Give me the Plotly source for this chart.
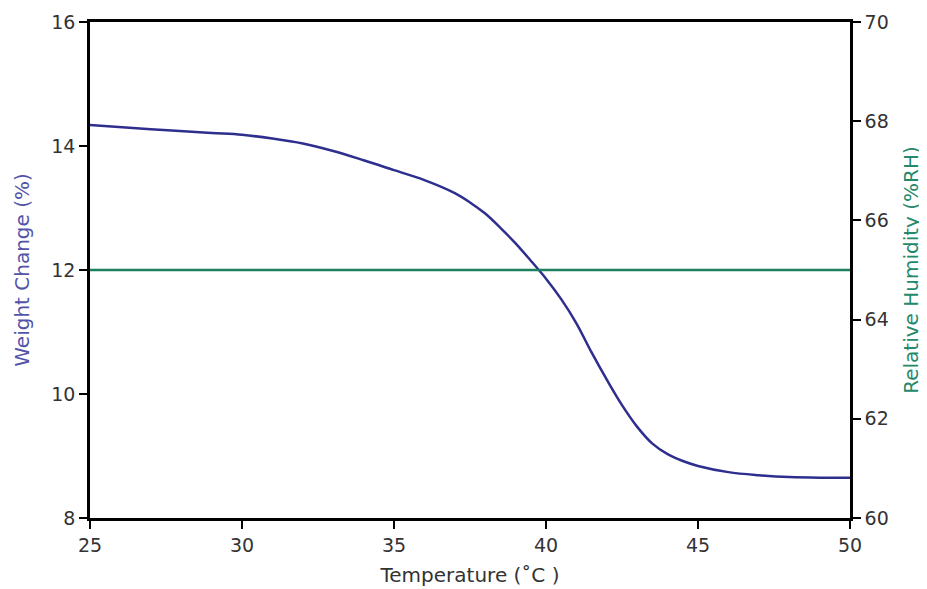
import plotly.graph_objects as go

temperature = [25, 27, 29, 30, 31, 32, 33, 34, 35, 36, 37, 37.5, 38, 38.5, 39, 39.5, 40,
               40.5, 41, 41.5, 42, 42.5, 43, 43.5, 44, 44.5, 45, 46, 47, 48, 49, 50]
weight_change = [14.34, 14.27, 14.21, 14.18, 14.12, 14.04, 13.92, 13.77, 13.61, 13.45,
                 13.24, 13.09, 12.91, 12.68, 12.43, 12.15, 11.86, 11.53, 11.14, 10.67,
                 10.23, 9.82, 9.47, 9.20, 9.03, 8.92, 8.84, 8.74, 8.69, 8.66, 8.65, 8.65]
rh_temperature = [25, 50]
relative_humidity = [65, 65]

blue = "#2E2E8F"
green = "#1B7F60"
font_family = "'DejaVu Sans', sans-serif"

fig = go.Figure()
fig.add_trace(go.Scatter(x=temperature, y=weight_change, mode="lines",
                         line=dict(color=blue, width=2.5, shape="spline", smoothing=1.0),
                         showlegend=False))
fig.add_trace(go.Scatter(x=rh_temperature, y=relative_humidity, mode="lines",
                         line=dict(color=green, width=2.5), yaxis="y2",
                         showlegend=False))

axis_common = dict(showline=True, linecolor="black", linewidth=2.5, ticks="outside",
                   ticklen=8, tickwidth=2, tickcolor="black", showgrid=False, zeroline=False,
                   automargin=False,
                   tickfont=dict(size=19, color="#333333", family=font_family))

fig.update_layout(
    width=927, height=589,
    margin=dict(l=82, r=85, t=14, b=79),
    paper_bgcolor="white", plot_bgcolor="white",
    font=dict(family=font_family),
    xaxis=dict(range=[25, 50], dtick=5, mirror=True,
               title=dict(text="Temperature (˚C )", font=dict(size=20, color="#333333"), standoff=14),
               **axis_common),
    yaxis=dict(range=[8, 16], dtick=2, mirror=True,
               title=dict(text="Weight Change (%)", font=dict(size=20, color="#5353A8"), standoff=17),
               **axis_common),
    yaxis2=dict(range=[60, 70], dtick=2, overlaying="y", side="right",
                title=dict(text="Relative Humidity (%RH)", font=dict(size=20, color="#23896A"), standoff=17),
                **axis_common),
)

fig.write_html("out.html")
